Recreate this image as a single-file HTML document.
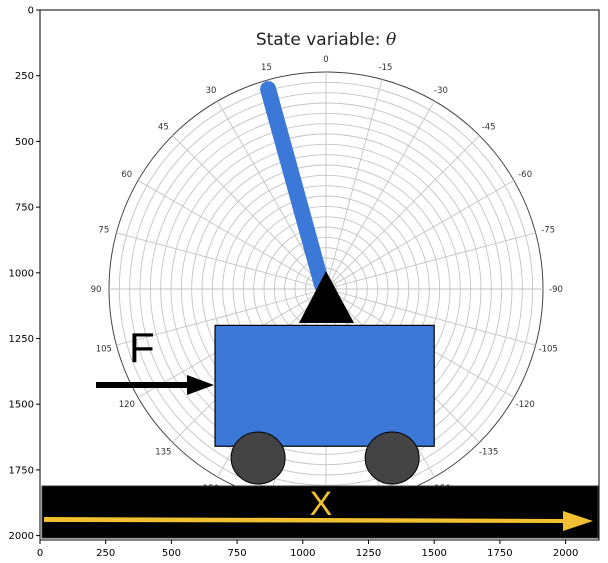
<!DOCTYPE html>
<html><head><meta charset="utf-8"><style>
html,body{margin:0;padding:0;background:#fff;}
svg{display:block;font-family:"DejaVu Sans","Liberation Sans",sans-serif;}
</style></head><body>
<svg id="chart" width="608" height="563" viewBox="0 0 608 563"></svg>
<script>
// data
const thetaDeg = 16;               // pendulum state angle
const angleTicks = [0,15,30,45,60,75,90,105,120,135,150,165,-15,-30,-45,-60,-75,-90,-105,-120,-135,-150,-165];
const ringCount = [21];
const xTicks = [0,250,500,750,1000,1250,1500,1750,2000];
const yTicks = [0,250,500,750,1000,1250,1500,1750,2000];
const cartX = [666,1500];  // data units
const cartY = [1200,1660];
const wheelX = [830,1340];

const NS="http://www.w3.org/2000/svg";
const svg=document.getElementById('chart');
function el(t,a,p){const e=document.createElementNS(NS,t);for(const k in a)e.setAttribute(k,a[k]);(p||svg).appendChild(e);return e;}
const X0=40,Y0=10,S=0.2628;
const sx=v=>X0+v*S, sy=v=>Y0+v*S;
const cx=326, cy=289, R=217;

// polar grid
const pg=el('g',{});


const n=ringCount[0];
for(let i=1;i<=n;i++){
  const c=el('circle',{cx:cx,cy:cy,r:R*i/n,fill:'none',stroke:i==n?'#444':'#c4c4c4','stroke-width':i==n?1:0.9},pg);
  
  
}
angleTicks.concat([180]).forEach(a=>{
  const r=a*Math.PI/180;
  const l=el('line',{x1:cx,y1:cy,x2:cx-R*Math.sin(r),y2:cy-R*Math.cos(r),stroke:'#c4c4c4','stroke-width':0.9},pg);
  
  
});
angleTicks.forEach(a=>{
  const r=a*Math.PI/180, rr=R+13;
  const t=el('text',{x:cx-rr*Math.sin(r),y:cy-rr*Math.cos(r)+3,'font-size':8.5,fill:'#333','text-anchor':'middle'},pg);
  t.textContent=a;
  
  
});

// title
const title=el('text',{x:cx,y:45,'font-size':17,fill:'#222','text-anchor':'middle'});
title.innerHTML='State variable: <tspan font-style="italic" font-family="DejaVu Serif,serif">θ</tspan>';



// pendulum
const tr=thetaDeg*Math.PI/180, L=210;
const pole=el('line',{x1:cx-4,y1:cy-4,x2:cx-L*Math.sin(tr),y2:cy-L*Math.cos(tr)+2,stroke:'#3c78d8','stroke-width':16,'stroke-linecap':'round'});



const tri=el('polygon',{points:`${cx},271 299,323 354,323`,fill:'#000'});



// cart
const cart=el('rect',{x:sx(cartX[0]),y:sy(cartY[0]),width:(cartX[1]-cartX[0])*S,height:(cartY[1]-cartY[0])*S,fill:'#3c78d8',stroke:'#000','stroke-width':1.2});


wheelX.forEach(w=>{
  const c=el('ellipse',{cx:sx(w),cy:458,rx:27,ry:26,fill:'#444',stroke:'#000','stroke-width':1});
  
  
});

// force
const ft=el('text',{x:129,y:362,'font-size':42,fill:'#000','font-family':'Liberation Sans,sans-serif'});
ft.textContent='F';


const fa=el('polygon',{points:'96,382 187,382 187,375 214,385 187,395 187,388 96,388',fill:'#000'});



// track
const trk=el('rect',{x:42,y:486,width:556,height:52,fill:'#000',stroke:'#333'});


const xt=el('text',{x:321,y:515,'font-size':34,fill:'#f0c030','text-anchor':'middle','font-family':'Liberation Sans,sans-serif'});
xt.textContent='X';


const xa=el('polygon',{points:'44,517 563,519 563,511 593,521 563,531 563,523 44,522',fill:'#f0c030'});



// axes frame
const fr=el('rect',{x:X0,y:Y0,width:559,height:530,fill:'none',stroke:'#000','stroke-width':1});


xTicks.forEach(v=>{
  el('line',{x1:sx(v),y1:540,x2:sx(v),y2:544,stroke:'#000'});
  const t=el('text',{x:sx(v),y:556,'font-size':10,fill:'#000','text-anchor':'middle'});
  t.textContent=v;
  
  
});
yTicks.forEach(v=>{
  el('line',{x1:36,y1:sy(v),x2:40,y2:sy(v),stroke:'#000'});
  const t=el('text',{x:34,y:sy(v)+3.5,'font-size':10,fill:'#000','text-anchor':'end'});
  t.textContent=v;
  
  
});
</script>
</body></html>
